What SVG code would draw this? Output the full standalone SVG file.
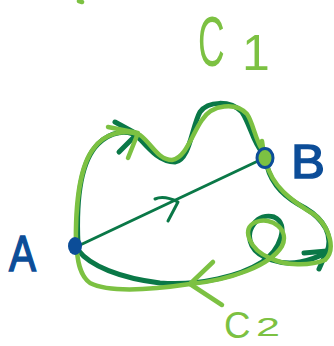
<svg xmlns="http://www.w3.org/2000/svg" width="334" height="346" viewBox="0 0 334 346">
<style>
.dg{fill:none;stroke:#0a7847;stroke-width:5;stroke-linecap:round;stroke-linejoin:round}
.lg{fill:none;stroke:#7cc142;stroke-width:4.5;stroke-linecap:round;stroke-linejoin:round}
.seg{fill:none;stroke:#0a7847;stroke-width:3;stroke-linecap:round;stroke-linejoin:round}
.lbl{font-family:"Liberation Sans",Arial,sans-serif;fill:#0c4d98;stroke:#0c4d98;stroke-width:1.5}
.glbl{font-family:"Liberation Sans",Arial,sans-serif;fill:#7cc142}
</style>
<rect width="334" height="346" fill="#ffffff"/>
<g id="connectors">
  <path class="dg" d="M78 244 C76 200 80 162 98 144 C110 132 128 128 139 138 C150 150 160 162 175 162 C190 160 192 126 200 112 C208 101 230 100 242 112 C250 124 253 142 262 152"/>
  <path class="dg" d="M115 122 L137 134 L119 152"/>
  <path class="lg" d="M76 250 C75 205 80 165 94 148 C104 134 124 128 140 135 C152 144 158 160 172 160 C186 158 192 134 202 120 C212 104 236 102 247 114 C254 124 255 142 265 154"/>
  <path class="lg" d="M108 127 L138 133 L128 158"/>
  <path class="seg" d="M78 246 L258 161"/>
  <path class="seg" d="M155 199 C162 196 170 198 178 202 L168 221"/>
  <path class="dg" d="M78 250 C90 266 120 278 160 283 C200 286 240 276 262 262 C280 250 290 224 274 217 C258 212 244 230 252 246 C258 258 282 266 300 262 C312 260 320 256 327 252 C333 236 325 220 305 208 C286 198 272 186 267 166"/>
  <path class="dg" d="M304 253 L327 251 L319 269"/>
  <path class="lg" d="M266 162 C272 186 290 200 315 215 C330 228 336 250 325 260 C310 266 285 266 270 258 C250 250 240 228 256 222 C272 216 290 230 282 246 C270 266 230 280 190 284 C150 290 110 293 90 283 C80 276 78 262 77 252"/>
  <path class="lg" d="M213 262 L190 284 L222 305"/>
  <path class="lg" d="M79 1 L82 2"/>
  <path class="lg" d="M263 148 L262 141"/>
</g>
<g id="A">
  <ellipse cx="75" cy="246" rx="7" ry="9" fill="#0c4d98"/>
  <text class="lbl" x="9" y="271" font-size="50" textLength="27" lengthAdjust="spacingAndGlyphs">A</text>
</g>
<g id="B">
  <ellipse cx="265" cy="158" rx="8" ry="9.5" fill="#7cc142" stroke="#0c4d98" stroke-width="3"/>
  <text class="lbl" x="291" y="178" font-size="48" textLength="34" lengthAdjust="spacingAndGlyphs">B</text>
</g>
<g id="C1">
  <text class="glbl" font-size="56" transform="translate(198 66) scale(0.66 1.25)">C</text>
  <text class="glbl" x="242" y="70" font-size="50">1</text>
</g>
<g id="C2">
  <text class="glbl" font-size="36" transform="translate(224 338) scale(1.02 1)">C</text>
  <text class="glbl" x="256" y="336" font-size="25" textLength="24" lengthAdjust="spacingAndGlyphs">2</text>
</g>
</svg>
